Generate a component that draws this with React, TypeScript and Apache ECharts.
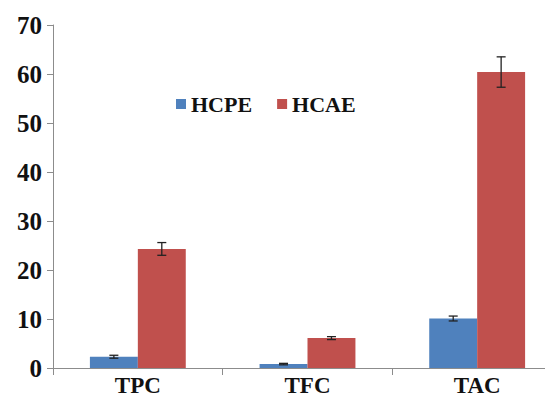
import React, { useEffect, useRef } from "react";
import * as echarts from "echarts";

const categories = ["TPC", "TFC", "TAC"];
const hcpeValues = [2.3, 0.8, 10.1];
const hcaeValues = [24.3, 6.1, 60.4];
const hcpeErrors = [0.3, 0.15, 0.5];
const hcaeErrors = [1.3, 0.3, 3.1];
const yTicks = [0, 10, 20, 30, 40, 50, 60, 70];

const FONT = "Liberation Serif";
const GAP = 0.435;

function errorSeries(values: number[], errors: number[], side: number) {
  return {
    type: "custom",
    silent: true,
    z: 10,
    data: values.map((v, i) => [i, v, errors[i]]),
    renderItem: (params: any, api: any) => {
      const idx = api.value(0);
      const v = api.value(1);
      const e = api.value(2);
      const band = api.size([1, 0])[0];
      const bw = (band * (1 - GAP)) / 2;
      const top = api.coord([idx, v + e]);
      const bot = api.coord([idx, v - e]);
      const x = top[0] + (side * bw) / 2;
      const half = 4.5;
      const style = { stroke: "#222", lineWidth: 1.3 };
      return {
        type: "group",
        children: [
          { type: "line", shape: { x1: x, y1: top[1], x2: x, y2: bot[1] }, style },
          { type: "line", shape: { x1: x - half, y1: top[1], x2: x + half, y2: top[1] }, style },
          { type: "line", shape: { x1: x - half, y1: bot[1], x2: x + half, y2: bot[1] }, style },
        ],
      };
    },
  };
}

export default function App() {
  const ref = useRef<HTMLDivElement>(null);
  useEffect(() => {
    if (!ref.current) return;
    const chart = echarts.init(ref.current, null, { renderer: "svg" });
    chart.setOption({
      animation: false,
      backgroundColor: "#fff",
      grid: { left: 53, top: 25, bottom: 36, right: 0, containLabel: false },
      legend: {
        data: ["HCPE", "HCAE"],
        left: 171,
        top: 88,
        icon: "rect",
        itemWidth: 10,
        itemHeight: 10,
        itemGap: 25,
        textStyle: { fontFamily: FONT, fontWeight: "bold", fontSize: 22, color: "#111" },
      },
      xAxis: {
        type: "category",
        data: categories,
        axisLine: { lineStyle: { color: "#8c8c8c", width: 1 } },
        axisTick: { show: true, alignWithLabel: false, length: 7, lineStyle: { color: "#8c8c8c" } },
        axisLabel: { fontFamily: FONT, fontWeight: "bold", fontSize: 23, color: "#111", margin: 6 },
      },
      yAxis: {
        type: "value",
        min: yTicks[0],
        max: yTicks[yTicks.length - 1],
        interval: 10,
        axisLine: { show: true, lineStyle: { color: "#8c8c8c", width: 1 } },
        axisTick: { show: true, length: 6, lineStyle: { color: "#8c8c8c" } },
        splitLine: { show: false },
        axisLabel: { fontFamily: FONT, fontWeight: "bold", fontSize: 25, color: "#111", margin: 11 },
      },
      series: [
        {
          name: "HCPE",
          type: "bar",
          data: hcpeValues,
          barGap: "0%",
          barCategoryGap: GAP * 100 + "%",
          itemStyle: { color: "#4F81BD" },
        },
        {
          name: "HCAE",
          type: "bar",
          data: hcaeValues,
          barGap: "0%",
          barCategoryGap: GAP * 100 + "%",
          itemStyle: { color: "#C0504D" },
        },
        errorSeries(hcpeValues, hcpeErrors, -1),
        errorSeries(hcaeValues, hcaeErrors, 1),
      ],
    });
    return () => chart.dispose();
  }, []);
  return (
    <div style={{ width: 553, height: 404, margin: -8, overflow: "hidden", position: "relative" }}>
      <div ref={ref} style={{ width: 562, height: 404 }} />
    </div>
  );
}
